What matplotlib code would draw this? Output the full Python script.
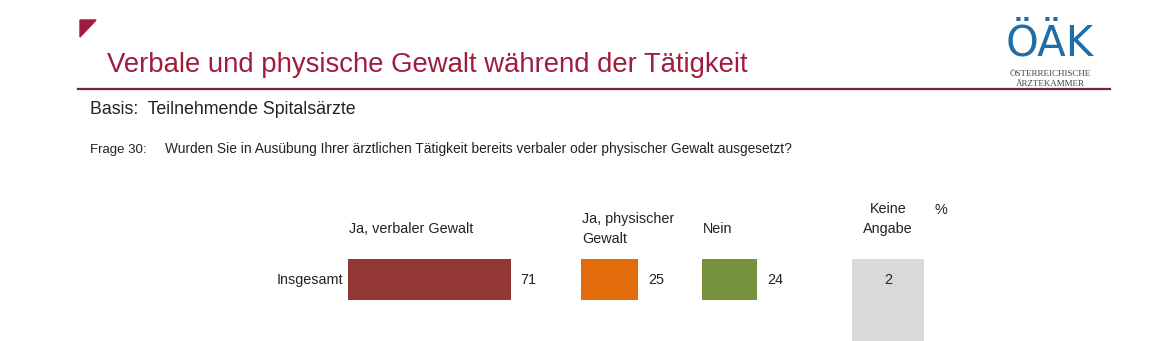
import matplotlib.pyplot as plt
from matplotlib.patches import Polygon

plt.rcParams['font.family'] = ['Liberation Sans', 'DejaVu Sans']

W, H = 1152, 341

row_label = "Insgesamt"
categories = ["Ja, verbaler Gewalt", "Ja, physischer\nGewalt", "Nein"]
values = [71, 25, 24]
colors = ["#943634", "#e36c0a", "#76923c"]
no_answer_label = "Keine\nAngabe"
no_answer_value = 2

title = "Verbale und physische Gewalt während der Tätigkeit"
basis = "Basis:  Teilnehmende Spitalsärzte"
frage_nr = "Frage 30:"
frage = "Wurden Sie in Ausübung Ihrer ärztlichen Tätigkeit bereits verbaler oder physischer Gewalt ausgesetzt?"

dark_red = "#a01c3c"
line_red = "#7b2245"
logo_blue = "#1f6ea8"


def fx(px):
    return px / W


def fy(py):
    return 1 - py / H


fig = plt.figure(figsize=(W / 100, H / 100), dpi=100)

# header
fig.patches.append(Polygon([(fx(80), fy(20)), (fx(96), fy(20)), (fx(80), fy(37))],
                           closed=True, transform=fig.transFigure, color=dark_red))
fig.text(fx(107), fy(65), title, fontsize=19.8, color=dark_red, va="center", ha="left")
fig.add_artist(plt.Line2D([fx(78), fx(1110)], [fy(89), fy(89)], color=line_red, lw=1.6,
                          transform=fig.transFigure))
fig.text(fx(1050), fy(44), "ÖÄK", fontsize=30, color=logo_blue, ha="center", va="center",
         fontfamily="DejaVu Sans")
fig.text(fx(1050), fy(74), "ÖSTERREICHISCHE", fontsize=6.5, color="#444444", ha="center",
         va="center", fontfamily="Liberation Serif")
fig.text(fx(1050), fy(84), "ÄRZTEKAMMER", fontsize=6.5, color="#444444", ha="center",
         va="center", fontfamily="Liberation Serif")
fig.text(fx(90), fy(110), basis, fontsize=12.8, color="#222222", va="center")
fig.text(fx(90), fy(153), frage_nr, fontsize=9.5, color="#222222", va="baseline")
fig.text(fx(165), fy(153), frage, fontsize=9.9, color="#222222", va="baseline")

# bar columns
scale = 2.29  # px per percent
col_left = [348, 581, 702]
bar_top, bar_bot = 259, 300
for i, (cat, val, col) in enumerate(zip(categories, values, colors)):
    left = col_left[i]
    ax = fig.add_axes([fx(left), fy(bar_bot), fx(100 * scale), (bar_bot - bar_top) / H])
    ax.barh([0], [val], height=1, color=col)
    ax.set_xlim(0, 100)
    ax.set_ylim(-0.5, 0.5)
    ax.axis("off")
    ax.text(val + 18 / scale, 0, str(val), va="center", ha="center", fontsize=10.4, color="#222222")
    fig.text(fx(left + 1), fy(229), cat, fontsize=10.4, color="#222222", va="center",
             ha="left", linespacing=1.5)

fig.text(fx(343), fy(280), row_label, fontsize=10.4, color="#222222", ha="right", va="center")

# keine Angabe column
ax_na = fig.add_axes([fx(852), fy(341), fx(72), (341 - 259) / H])
ax_na.set_facecolor("#d9d9d9")
ax_na.set_xticks([])
ax_na.set_yticks([])
for s in ax_na.spines.values():
    s.set_visible(False)
ax_na.text(0.5, 1 - 21 / 82, str(no_answer_value), transform=ax_na.transAxes, ha="center",
           va="center", fontsize=10.4, color="#222222")
fig.text(fx(888), fy(219), no_answer_label, fontsize=10.4, color="#222222", ha="center",
         va="center", linespacing=1.5)
fig.text(fx(941), fy(210), "%", fontsize=10.4, color="#222222", ha="center", va="center")

fig.savefig("out.png", dpi=100, facecolor="white")
